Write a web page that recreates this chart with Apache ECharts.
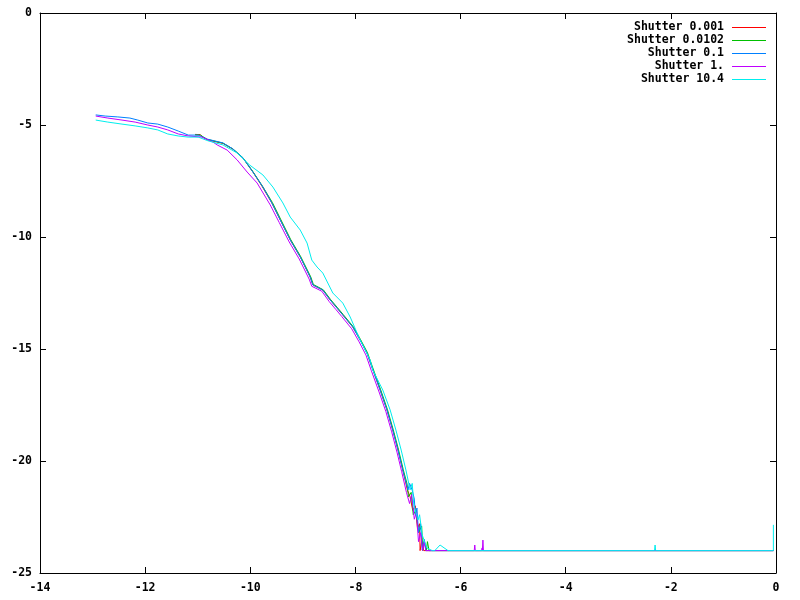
<!DOCTYPE html>
<html>
<head>
<meta charset="utf-8">
<script src="https://cdn.jsdelivr.net/npm/echarts@6/dist/echarts.min.js"></script>
<style>html,body{margin:0;padding:0;background:#fff}#c{width:800px;height:600px}</style>
</head>
<body>
<div id="c"></div>
<script>
const seriesNames = ["Shutter 0.001", "Shutter 0.0102", "Shutter 0.1", "Shutter 1.", "Shutter 10.4"];
const xTicks = [-14, -12, -10, -8, -6, -4, -2, 0];
const yTicks = [-25, -20, -15, -10, -5, 0];

const shutter0001 = [
[-11.05,-5.42],[-10.95,-5.43],[-10.90,-5.55],[-10.82,-5.66],[-10.52,-5.82],[-10.33,-6.08],[-10.14,-6.47],[-9.95,-7.10],
[-9.78,-7.72],[-9.59,-8.48],[-9.43,-9.24],[-9.24,-10.13],[-9.05,-10.89],[-8.86,-11.79],[-8.81,-12.14],[-8.62,-12.37],
[-8.48,-12.81],[-8.35,-13.17],[-8.24,-13.48],[-8.05,-14.02],[-7.91,-14.60],[-7.78,-15.18],[-7.68,-15.85],[-7.53,-16.83],
[-7.40,-17.72],[-7.29,-18.62],[-7.19,-19.51],[-7.10,-20.40],[-7.01,-21.30],[-6.96,-21.6],[-6.91,-22.2],[-6.86,-22.0],
[-6.82,-23.0],[-6.78,-22.8],[-6.77,-24.0],[-6.74,-23.6],[-6.70,-24.0],[-0.05,-24.0]
];
const shutter00102 = [
[-11.05,-5.44],[-10.95,-5.45],[-10.82,-5.64],[-10.52,-5.81],[-10.33,-6.07],[-10.14,-6.46],[-9.95,-7.08],[-9.76,-7.76],
[-9.58,-8.46],[-9.42,-9.22],[-9.23,-10.12],[-9.04,-10.88],[-8.85,-11.78],[-8.80,-12.12],[-8.61,-12.36],[-8.47,-12.80],
[-8.34,-13.16],[-8.23,-13.47],[-8.04,-14.01],[-7.90,-14.59],[-7.77,-15.17],[-7.67,-15.84],[-7.52,-16.82],[-7.39,-17.71],
[-7.28,-18.61],[-7.18,-19.50],[-7.09,-20.39],[-7.02,-21.0],[-6.99,-21.6],[-6.94,-21.4],[-6.90,-22.4],[-6.85,-22.2],
[-6.80,-23.2],[-6.74,-22.9],[-6.72,-24.0],[-6.69,-23.6],[-6.65,-24.0],[-6.63,-23.6],[-6.60,-24.0],[-0.05,-24.0]
];
const shutter01 = [
[-12.94,-4.55],[-12.76,-4.60],[-12.52,-4.64],[-12.29,-4.69],[-12.14,-4.78],[-11.95,-4.91],[-11.76,-4.96],[-11.57,-5.09],
[-11.37,-5.27],[-11.18,-5.45],[-10.99,-5.45],[-10.82,-5.63],[-10.52,-5.80],[-10.33,-6.07],[-10.14,-6.47],[-9.95,-7.10],
[-9.76,-7.77],[-9.59,-8.48],[-9.43,-9.24],[-9.24,-10.13],[-9.05,-10.89],[-8.86,-11.79],[-8.81,-12.14],[-8.62,-12.37],
[-8.48,-12.81],[-8.35,-13.17],[-8.24,-13.48],[-8.05,-14.02],[-7.91,-14.60],[-7.78,-15.18],[-7.68,-15.85],[-7.53,-16.83],
[-7.40,-17.72],[-7.29,-18.62],[-7.19,-19.51],[-7.10,-20.40],[-7.00,-21.29],[-6.97,-21.0],[-6.92,-21.3],[-6.88,-21.7],
[-6.86,-22.4],[-6.83,-22.1],[-6.80,-23.2],[-6.76,-22.8],[-6.73,-23.97],[-6.69,-23.5],[-6.66,-24.0],[-0.05,-24.0]
];
const shutter1 = [
[-12.94,-4.60],[-12.71,-4.69],[-12.44,-4.78],[-12.19,-4.87],[-11.95,-5.00],[-11.76,-5.09],[-11.57,-5.22],[-11.37,-5.40],
[-11.18,-5.49],[-10.92,-5.54],[-10.71,-5.76],[-10.63,-5.89],[-10.44,-6.12],[-10.25,-6.56],[-10.06,-7.10],[-9.87,-7.59],
[-9.62,-8.57],[-9.45,-9.35],[-9.26,-10.22],[-9.07,-10.98],[-8.88,-11.88],[-8.83,-12.20],[-8.64,-12.42],[-8.50,-12.88],
[-8.37,-13.24],[-8.26,-13.55],[-8.07,-14.10],[-7.93,-14.68],[-7.80,-15.27],[-7.70,-15.95],[-7.55,-16.92],[-7.42,-17.80],
[-7.31,-18.70],[-7.21,-19.60],[-7.12,-20.48],[-7.03,-21.40],[-6.97,-21.9],[-6.93,-21.5],[-6.88,-22.6],[-6.84,-22.3],
[-6.80,-23.6],[-6.76,-23.2],[-6.72,-24.0],[-6.69,-23.6],[-6.66,-24.0],[-5.74,-24.0],[-5.73,-23.75],[-5.72,-24.0],
[-5.60,-24.0],[-5.59,-23.88],[-5.585,-24.0],[-5.575,-23.53],[-5.565,-24.0],[-0.05,-24.0]
];
const shutter104 = [
[-12.94,-4.78],[-12.71,-4.87],[-12.44,-4.96],[-12.19,-5.04],[-11.95,-5.13],[-11.76,-5.22],[-11.57,-5.40],[-11.37,-5.49],
[-11.18,-5.54],[-10.99,-5.54],[-10.80,-5.71],[-10.52,-5.89],[-10.25,-6.25],[-10.01,-6.79],[-9.76,-7.23],[-9.57,-7.77],
[-9.38,-8.48],[-9.24,-9.11],[-9.05,-9.69],[-8.92,-10.27],[-8.83,-11.03],[-8.73,-11.34],[-8.62,-11.61],[-8.43,-12.50],
[-8.24,-12.95],[-8.10,-13.57],[-7.91,-14.60],[-7.72,-15.49],[-7.67,-15.94],[-7.48,-16.83],[-7.34,-17.72],[-7.23,-18.62],
[-7.13,-19.51],[-7.04,-20.40],[-6.96,-21.29],[-6.92,-21.0],[-6.89,-21.96],[-6.85,-22.3],[-6.81,-22.63],[-6.78,-22.4],
[-6.73,-23.30],[-6.64,-23.88],[-6.54,-24.0],[-6.49,-24.0],[-6.39,-23.75],[-6.24,-24.0],[-2.31,-24.0],[-2.30,-23.75],
[-2.29,-24.0],[-0.05,-24.0],[-0.05,-22.85]
];

const seriesData = [shutter0001, shutter00102, shutter01, shutter1, shutter104];
const colors = ["#ff0000", "#00c000", "#0080ff", "#c000ff", "#00eeee"];

const FONT = "DejaVu Sans Mono";
const chart = echarts.init(document.getElementById('c'), null, {renderer: 'canvas'});

function axisBase(extra) {
  return Object.assign({
    type: 'value',
    axisLine: {show: true, onZero: false, lineStyle: {color: '#000', width: 1}},
    axisTick: {show: true, inside: true, length: 6, lineStyle: {color: '#000', width: 1}},
    splitLine: {show: false}
  }, extra);
}

const labelStyle = {color: '#000', fontFamily: FONT, fontWeight: 'bold', fontSize: 11.5};

chart.setOption({
  animation: false,
  backgroundColor: '#fff',
  grid: {left: 40, right: 24, top: 13, bottom: 27, containLabel: false},
  legend: {
    orient: 'vertical',
    right: 34,
    top: 21,
    align: 'right',
    icon: 'rect',
    itemWidth: 34,
    itemHeight: 1,
    itemGap: 0,
    padding: 0,
    data: seriesNames,
    textStyle: {color: '#000', fontFamily: FONT, fontWeight: 'bold', fontSize: 11.5, lineHeight: 13, width: 100, align: 'right', padding: [0, 3, 0, 0]}
  },
  xAxis: [
    axisBase({min: xTicks[0], max: xTicks[xTicks.length - 1], interval: 2, position: 'bottom',
      axisLabel: Object.assign({margin: 9}, labelStyle)}),
    axisBase({min: xTicks[0], max: xTicks[xTicks.length - 1], interval: 2, position: 'top',
      axisLabel: {show: false}})
  ],
  yAxis: [
    axisBase({min: yTicks[0], max: yTicks[yTicks.length - 1], interval: 5, position: 'left',
      axisLabel: Object.assign({margin: 8}, labelStyle)}),
    axisBase({min: yTicks[0], max: yTicks[yTicks.length - 1], interval: 5, position: 'right',
      axisLabel: {show: false}})
  ],
  series: seriesNames.map((n, i) => ({
    name: n,
    type: 'line',
    data: seriesData[i],
    showSymbol: false,
    symbol: 'none',
    color: colors[i],
    lineStyle: {width: 1, color: colors[i]},
    itemStyle: {color: colors[i]},
    z: 2 + i
  }))
});
</script>
</body>
</html>
